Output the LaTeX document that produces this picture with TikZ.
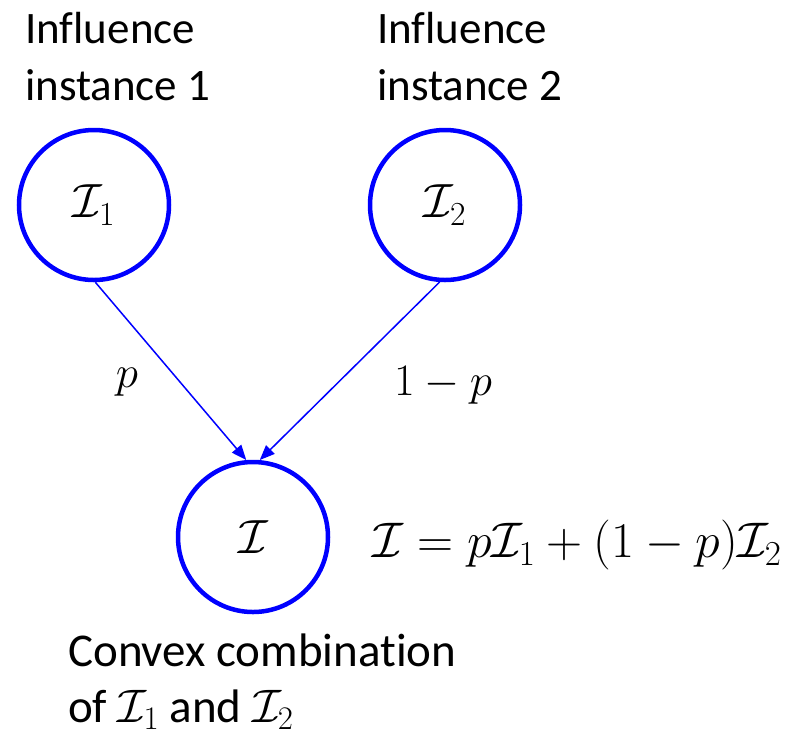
\documentclass[tikz,border=0pt]{standalone}
\usepackage{fix-cm}
\usepackage{amsmath,amssymb}
\usepackage{fontspec}
\setmainfont{Carlito}[Ligatures=NoCommon]
\usetikzlibrary{positioning,arrows.meta}

\begin{document}
\begin{tikzpicture}[
    x=1pt, y=-1pt,
    font=\fontsize{45}{57}\selectfont,
    inst/.style={
        circle,
        draw=blue,
        line width=4.5pt,
        minimum size=150pt,
        inner sep=0pt,
        font=\fontsize{48}{57}\selectfont
    },
    caption/.style={
        align=left,
        inner sep=0pt,
        anchor=north west
    },
    arrow/.style={-{Triangle[length=15pt,width=12pt]}, line width=1.5pt, blue}
]
\useasboundingbox (0,0) rectangle (794,737);

\node[inst] (c1) at (94,205) {$\mathcal{I}_1$};
\node[inst] (c2) at (445,205) {$\mathcal{I}_2$};
\node[inst] (c3) at (253,537) {$\mathcal{I}$};

\node[caption] (t1) at (25,12) {Influence\\instance 1};
\node[caption] (t2) at (377,12) {Influence\\instance 2};
\node[caption, font=\fontsize{47}{56}\selectfont] (t3) at (68,634) {Convex combination\\of $\mathcal{I}_1$ and $\mathcal{I}_2$};

\node[font=\fontsize{50}{57}\selectfont] (eq) at (577,545) {$\mathcal{I} = p\mathcal{I}_1 + (1-p)\mathcal{I}_2$};

\draw[arrow] (c1.-89) -- (c3.95);
\draw[arrow] (c2.-94) -- (c3.85);
\node (lp) at (127,382) {$p$};
\node (lq) at (443,385) {$1-p$};
\end{tikzpicture}
\end{document}
